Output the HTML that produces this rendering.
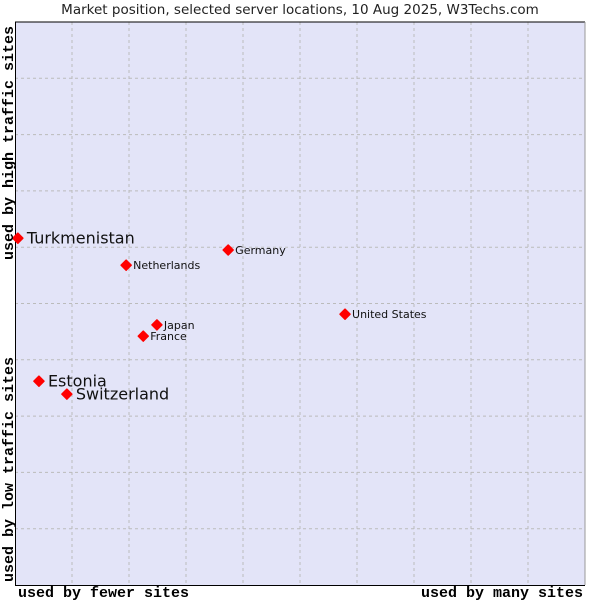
<!DOCTYPE html>
<html><head><meta charset="utf-8"><style>
body{margin:0;background:#fff;width:600px;height:600px;overflow:hidden}
svg text{font-family:"DejaVu Sans","Liberation Sans",sans-serif}
.ax{font-family:"Liberation Mono","DejaVu Sans Mono",monospace !important;font-size:15px;font-weight:bold;fill:#000}
</style></head><body>
<svg id="chart" width="600" height="600">
<text x="300" y="14" text-anchor="middle" font-size="13.5" fill="#222">Market position, selected server locations, 10 Aug 2025, W3Techs.com</text>
<rect x="15" y="22" width="570" height="563" fill="#e3e4f8"/>
<g id="grid"></g>
<line x1="15" y1="22" x2="585" y2="22" stroke="#000"/>
<line x1="15.5" y1="22" x2="15.5" y2="585" stroke="#000"/>
<line x1="15" y1="585.5" x2="585" y2="585.5" stroke="#000"/>
<line x1="585" y1="22" x2="585" y2="585" stroke="#999"/>
<g id="points"></g>
<text class="ax" x="18" y="597">used by fewer sites</text>
<text class="ax" x="583" y="597" text-anchor="end">used by many sites</text>
<text class="ax" transform="translate(13,582) rotate(-90)">used by low traffic sites</text>
<text class="ax" transform="translate(13,260) rotate(-90)">used by high traffic sites</text>
</svg>
<script>
const names=["Turkmenistan","Netherlands","Germany","United States","Japan","France","Estonia","Switzerland"];
const xValues=[0.5,19.5,37.4,57.9,24.9,22.5,4.2,9.1];
const yValues=[61.6,56.8,59.5,48.1,46.2,44.2,36.2,33.9];
const highlighted=[true,false,false,false,false,false,true,true];
const NS="http://www.w3.org/2000/svg";
const X=v=>15+v*5.7, Y=v=>585-v*5.63;
const grid=document.getElementById('grid');
for(let i=1;i<10;i++){
 const l=document.createElementNS(NS,'line');
 l.setAttribute('x1',X(i*10));l.setAttribute('x2',X(i*10));l.setAttribute('y1',22);l.setAttribute('y2',585);
 l.setAttribute('stroke','#bbb');l.setAttribute('stroke-dasharray','3,3');
 
 
 grid.appendChild(l);
 const h=document.createElementNS(NS,'line');
 h.setAttribute('y1',Y(i*10));h.setAttribute('y2',Y(i*10));h.setAttribute('x1',15);h.setAttribute('x2',585);
 h.setAttribute('stroke','#bbb');h.setAttribute('stroke-dasharray','3,3');
 
 
 grid.appendChild(h);
}
const pts=document.getElementById('points');
names.forEach((n,i)=>{
 const cx=X(xValues[i]),cy=Y(yValues[i]);
 const d=document.createElementNS(NS,'path');
 d.setAttribute('d',`M${cx-5},${cy}L${cx},${cy-5}L${cx+5},${cy}L${cx},${cy+5}Z`);
 d.setAttribute('fill','#f00');d.setAttribute('stroke','#f00');d.setAttribute('stroke-width','1.5');d.setAttribute('stroke-linejoin','round');
 
 
 pts.appendChild(d);
 const t=document.createElementNS(NS,'text');
 const big=highlighted[i];
 t.setAttribute('x',cx+(big?9:7));t.setAttribute('y',cy+(big?5.5:4));
 t.setAttribute('font-size',big?16:11);t.setAttribute('fill','#111');
 t.textContent=n;
 
 
 pts.appendChild(t);
});
</script>
</body></html>
